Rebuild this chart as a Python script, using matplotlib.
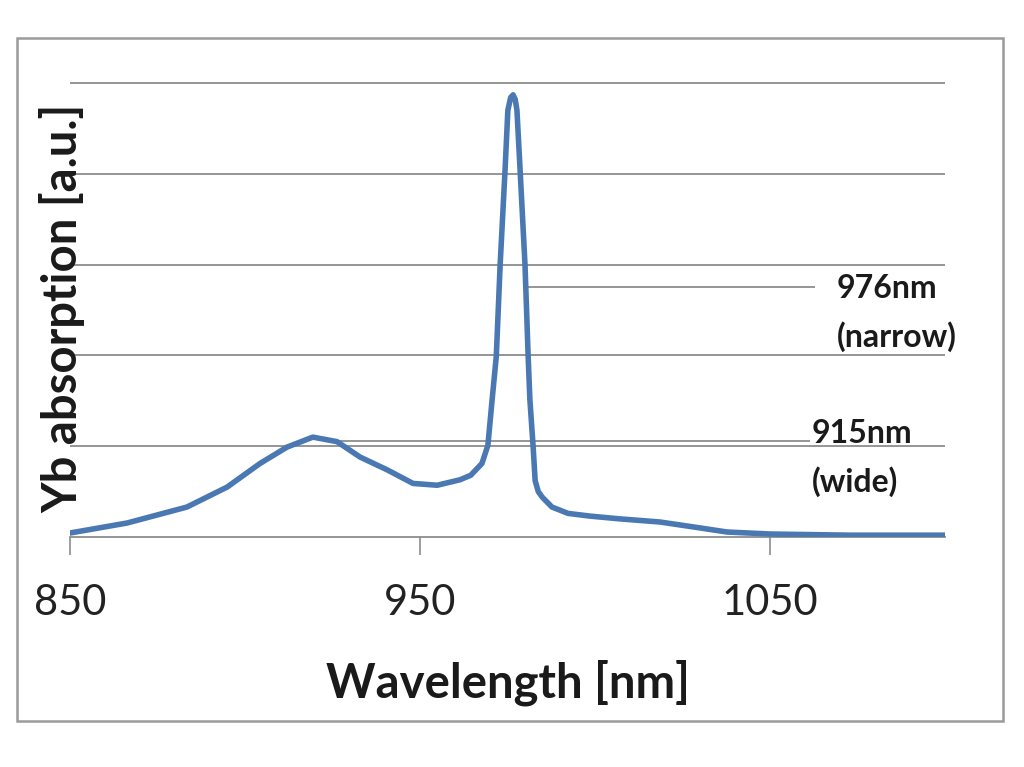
import matplotlib.pyplot as plt
from matplotlib.patches import Rectangle

# Longitud de onda (nm) y absorción del Yb (u.a.)
wavelength = [850, 866.3, 883.4, 894.9, 904.3, 912, 919.4, 926.3, 932.9, 940.6,
              948, 954.9, 961.4, 964.5, 967.7, 969.4, 970.6, 971.8, 972.9, 974.3,
              975.1, 975.9, 976.6, 977.2, 977.7, 978.6, 980, 980.9, 981.4, 982.3,
              982.9, 983.8, 984.9, 987.7, 992.3, 998.6, 1007, 1018.6, 1030, 1037.7,
              1050, 1072.9, 1100]
absorption = [0.044, 0.154, 0.33, 0.55, 0.81, 0.99, 1.10, 1.05, 0.88, 0.74,
              0.59, 0.57, 0.63, 0.68, 0.81, 1.01, 1.51, 1.99, 3.0, 4.04,
              4.70, 4.84, 4.87, 4.82, 4.70, 4.04, 3.0, 1.99, 1.51, 1.01,
              0.62, 0.50, 0.44, 0.33, 0.26, 0.23, 0.20, 0.165, 0.10, 0.055,
              0.033, 0.02, 0.02]

xticks = [850, 950, 1050]
gridlines = [1, 2, 3, 4, 5]

# Líneas indicadoras de las etiquetas: (x inicio, x fin, y)
marker_narrow = (980.6, 1062.9, 2.753)
marker_wide = (926.3, 1061.4, 1.057)

plt.rcParams['font.family'] = ['Lato', 'DejaVu Sans']
grey = '#8c8c8c'
dark = '#1a1a1a'

fig = plt.figure(figsize=(10.24, 7.67), dpi=100)
ax = fig.add_axes([70 / 1024, 1 - 537 / 767, 875 / 1024, 455.8 / 767])

# Marco exterior del gráfico
fig.patches.append(Rectangle((17 / 1024, 1 - 721 / 767), 986 / 1024, 683 / 767,
                             transform=fig.transFigure, fill=False,
                             edgecolor='#9a9a9a', linewidth=1.8))

ax.plot(wavelength, absorption, color='#4a78b2', linewidth=4,
        solid_capstyle='round', solid_joinstyle='round', zorder=3)

ax.set_xlim(850, 1100)
ax.set_ylim(0, 5.02)

for y in gridlines:
    ax.axhline(y, color=grey, linewidth=1.3, zorder=1)

ax.hlines(marker_narrow[2], marker_narrow[0], marker_narrow[1], color=grey, linewidth=1.3, zorder=1)
ax.hlines(marker_wide[2], marker_wide[0], marker_wide[1], color=grey, linewidth=1.3, zorder=1)

# Etiquetas de los picos
ax.text(1069.1, 2.742, '976nm', fontsize=23, fontweight='bold', va='center', ha='left', color=dark)
ax.text(1069.1, 2.203, '(narrow)', fontsize=23, fontweight='bold', va='center', ha='left', color=dark)
ax.text(1062, 1.145, '915nm', fontsize=23, fontweight='bold', va='center', ha='left', color=dark)
ax.text(1062, 0.606, '(wide)', fontsize=23, fontweight='bold', va='center', ha='left', color=dark)

for s in ['top', 'right', 'left']:
    ax.spines[s].set_visible(False)
ax.spines['bottom'].set_color(grey)
ax.spines['bottom'].set_linewidth(1.3)

ax.set_yticks([])
ax.set_xticks(xticks)
ax.set_xticklabels([str(t) for t in xticks], fontsize=30, color='#222222')
ax.tick_params(axis='x', direction='out', length=13, width=1.2, color=grey, pad=21)

ax.set_xlabel('Wavelength [nm]', fontsize=34, fontweight='bold', color=dark)
ax.xaxis.set_label_coords(0.5, -0.268)
fig.text(62 / 1024, 1 - 308 / 767, 'Yb absorption [a.u.]', rotation=90,
         fontsize=34, fontweight='bold', ha='center', va='center', color=dark)

plt.savefig('out.png', dpi=100)
